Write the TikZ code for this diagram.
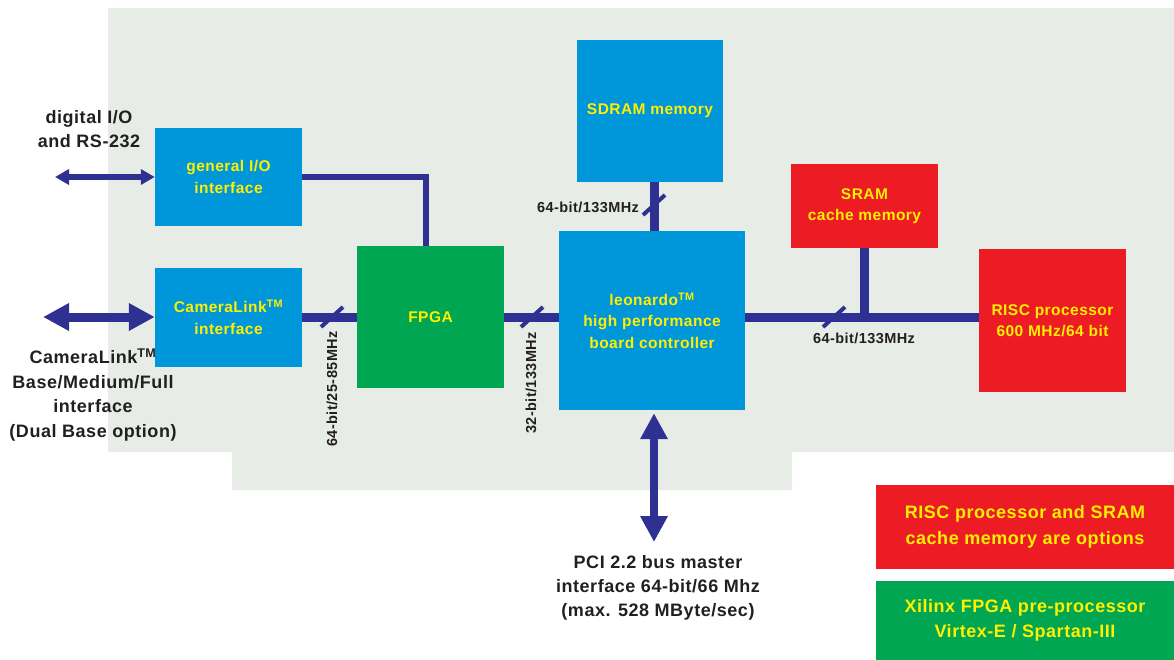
\documentclass[tikz,border=0pt]{standalone}
\usepackage{fontspec}
\setmainfont{Liberation Sans}[LetterSpace=3]
\usetikzlibrary{positioning}
\usetikzlibrary{calc}
\usetikzlibrary{arrows.meta}

\definecolor{boardbg}{RGB}{232,236,231}
\definecolor{ctrlblue}{RGB}{0,150,218}
\definecolor{fpgagreen}{RGB}{0,166,81}
\definecolor{optred}{RGB}{237,28,36}
\definecolor{busnavy}{RGB}{46,49,146}
\definecolor{txtyellow}{RGB}{255,239,0}
\definecolor{txtdark}{RGB}{35,31,32}

\tikzset{
  block/.style={inner sep=0pt, align=center, text=txtyellow,
    font=\fontsize{15.5}{21.5}\selectfont\bfseries},
  blue block/.style={block, fill=ctrlblue},
  green block/.style={block, fill=fpgagreen},
  red block/.style={block, fill=optred},
  note/.style={block, font=\fontsize{18}{25.5}\selectfont\bfseries,
    minimum width=298pt},
  ext label/.style={align=center, text=txtdark, inner sep=0pt,
    font=\fontsize{18}{24.5}\selectfont\bfseries},
  bus label/.style={text=txtdark, inner sep=0pt,
    font=\fontsize{14.5}{16}\selectfont\bfseries},
  bus/.style={draw=busnavy, line width=9pt},
  thin bus/.style={draw=busnavy, line width=6pt},
  tick/.style={draw=busnavy, line width=4pt},
  big tips/.style={{Triangle[length=26pt,width=26pt]}-{Triangle[length=26pt,width=26pt]}},
  small tips/.style={{Triangle[length=14pt,width=15pt]}-{Triangle[length=14pt,width=15pt]}}
}

\begin{document}
\begin{tikzpicture}[x=1pt, y=-1pt]
  \useasboundingbox (0,0) rectangle (1174,660);

  % board outline
  \fill[boardbg] (108,8) -- (1174,8) -- (1174,452) -- (792,452) -- (792,490)
    -- (232,490) -- (232,452) -- (108,452) -- cycle;

  % blocks
  \node[blue block, minimum width=147pt, minimum height=98pt] (gio) at (228.5,177)
    {general I/O\\interface};
  \node[blue block, minimum width=147pt, minimum height=99pt] (clink) at (228.5,317)
    {CameraLink\textsuperscript{TM}\\interface};
  \node[green block, minimum width=147pt, minimum height=142pt] (fpga) at (430.5,317)
    {FPGA};
  \node[blue block, minimum width=186pt, minimum height=179pt] (leo) at (652,320.5)
    {leonardo\textsuperscript{TM}\\high performance\\board controller};
  \node[blue block, minimum width=146pt, minimum height=142pt] (sdram) at (650,111)
    {SDRAM memory};
  \node[red block, minimum width=147pt, minimum height=84pt] (sram) at (864.5,206)
    {SRAM\\cache memory};
  \node[red block, minimum width=147pt, minimum height=143pt] (risc) at (1052.5,320.5)
    {RISC processor\\600 MHz/64 bit};

  % legend
  \node[note, fill=optred, minimum height=84pt] (optnote) at (1025,527)
    {RISC processor and SRAM\\cache memory are options};
  \node[note, fill=fpgagreen, minimum height=79pt] (fpganote) at (1025,620.5)
    {Xilinx FPGA pre-processor\\Virtex-E / Spartan-III};

  % outside labels
  \node[ext label] (diolbl) at (89,129) {digital I/O\\and RS-232};
  \node[ext label] (camlbl) at (93,395)
    {CameraLink\textsuperscript{TM}\\Base/Medium/Full\\interface\\(Dual Base option)};
  \node[ext label, font=\fontsize{18}{24}\selectfont\bfseries] (pcilbl) at (658,588)
    {PCI 2.2 bus master\\interface 64-bit/66 Mhz\\(max. 528 MByte/sec)};

  \coordinate (dio) at (55,177);
  \coordinate (cam) at (43,317);
  \coordinate (pci) at (654,542);
  \coordinate (mem) at (654,205);
  \coordinate (t1) at (332,317);
  \coordinate (t2) at (532,317);
  \coordinate (t3) at (834,317);

  % buses
  \draw[thin bus] (gio.east) -| ($(fpga.north)+(-5,0)$);
  \draw[bus] (clink.east) -- (fpga.west);
  \draw[bus] (fpga.east) -- (fpga.east -| leo.west);
  \draw[bus] (leo.east |- t3) -- (risc.west |- t3);
  \draw[bus] (sram.south) -- (sram.south |- t3);
  \draw[bus] (sdram.south -| mem) -- (leo.north -| mem);

  % external links
  \draw[thin bus, small tips] (dio) -- (gio.west);
  \draw[bus, big tips] (cam) -- (clink.west);
  \draw[bus, line width=8pt, big tips, shorten <=3pt] (leo.south -| pci) -- (pci);

  % bus width marks
  \draw[tick] ($(t1)+(-11,10)$) -- ($(t1)+(11,-10)$);
  \draw[tick] ($(t2)+(-11,10)$) -- ($(t2)+(11,-10)$);
  \draw[tick] ($(t3)+(-11,10)$) -- ($(t3)+(11,-10)$);
  \draw[tick] ($(mem)+(-11,10)$) -- ($(mem)+(11,-10)$);

  \node[bus label, rotate=90] (lclk) at (332,389) {64-bit/25-85MHz};
  \node[bus label, rotate=90] (lfpga) at (531,383) {32-bit/133MHz};
  \node[bus label] (lsdram) at (588,207) {64-bit/133MHz};
  \node[bus label] (lsram) at (864,338) {64-bit/133MHz};
\end{tikzpicture}
\end{document}
